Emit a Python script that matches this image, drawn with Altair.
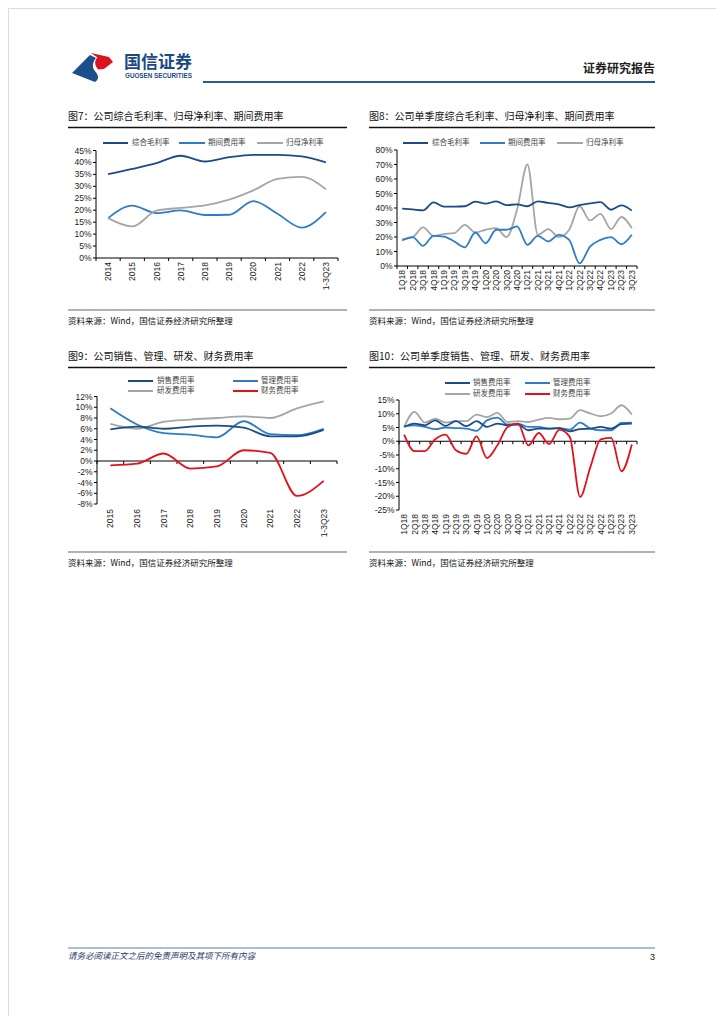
import altair as alt
import pandas as pd

# ---------------- data ----------------
years7 = ["2014", "2015", "2016", "2017", "2018", "2019", "2020", "2021", "2022", "1-3Q23"]
gross7 = [35.1, 37.3, 39.7, 42.8, 40.4, 42.2, 43.2, 43.2, 42.5, 40.0]
expense7 = [16.7, 21.9, 18.8, 19.9, 18.0, 18.1, 23.8, 18.5, 12.7, 19.2]
net7 = [16.7, 13.2, 19.8, 21.0, 22.0, 24.4, 28.3, 33.1, 34.0, 28.8]

quarters = ["1Q18", "2Q18", "3Q18", "4Q18", "1Q19", "2Q19", "3Q19", "4Q19",
            "1Q20", "2Q20", "3Q20", "4Q20", "1Q21", "2Q21", "3Q21", "4Q21",
            "1Q22", "2Q22", "3Q22", "4Q22", "1Q23", "2Q23", "3Q23"]
gross8 = [39.5, 39.0, 38.4, 43.9, 41.0, 41.0, 41.2, 44.4, 43.0, 44.6, 42.0, 42.5,
          41.2, 44.6, 43.5, 42.5, 40.5, 42.0, 43.2, 44.0, 38.8, 41.8, 38.2]
expense8 = [17.6, 19.9, 13.9, 20.8, 20.3, 16.9, 12.9, 23.1, 15.7, 25.0, 25.0, 27.3,
            14.6, 20.8, 16.9, 21.5, 18.0, 1.8, 13.4, 18.0, 19.9, 15.0, 21.5]
net8 = [18.5, 19.9, 26.6, 20.8, 22.0, 22.7, 28.4, 23.1, 25.0, 26.1, 19.9, 38.8,
        70.0, 21.5, 25.4, 19.9, 25.0, 41.2, 31.4, 36.0, 25.4, 33.8, 26.1]

years9 = ["2015", "2016", "2017", "2018", "2019", "2020", "2021", "2022", "1-3Q23"]
sales9 = [5.9, 6.4, 6.0, 6.4, 6.6, 6.2, 4.6, 4.6, 5.8]
admin9 = [9.8, 6.8, 5.2, 4.9, 4.4, 7.4, 5.0, 4.8, 6.0]
rd9 = [6.9, 6.0, 7.3, 7.7, 8.0, 8.3, 8.0, 9.8, 11.1]
fin9 = [-0.8, -0.5, 1.4, -1.4, -1.0, 2.0, 1.5, -6.5, -3.7]

sales10 = [5.2, 6.4, 5.8, 7.6, 5.6, 7.3, 5.5, 7.3, 5.2, 6.4, 5.8, 6.1,
           4.0, 4.6, 4.6, 4.8, 3.6, 4.4, 4.6, 5.2, 4.6, 6.2, 6.4]
admin10 = [5.5, 5.8, 5.2, 4.4, 5.0, 4.8, 4.6, 3.8, 7.6, 8.6, 6.1, 6.4,
           5.2, 5.2, 4.6, 4.8, 4.2, 6.8, 4.6, 4.0, 4.0, 6.7, 6.8]
rd10 = [5.2, 10.7, 6.8, 8.2, 6.8, 7.3, 7.3, 9.7, 8.8, 10.3, 7.0, 7.3,
        7.0, 7.9, 8.5, 8.0, 8.2, 11.3, 10.1, 9.1, 10.1, 13.1, 9.7]
fin10 = [2.4, -3.6, -3.6, 0.7, 2.4, -3.3, -4.6, 1.8, -6.1, -1.5, 5.2, 6.4,
         -1.5, 3.0, -1.0, 4.2, 1.6, -20.2, -9.3, 0.7, 1.2, -10.9, -1.2]

ticks7 = [0, 5, 10, 15, 20, 25, 30, 35, 40, 45]
ticks8 = [0, 10, 20, 30, 40, 50, 60, 70, 80]
ticks9 = [-8, -6, -4, -2, 0, 2, 4, 6, 8, 10, 12]
ticks10 = [-25, -20, -15, -10, -5, 0, 5, 10, 15]

names_a = ["综合毛利率", "期间费用率", "归母净利率"]
names_b = ["销售费用率", "管理费用率", "研发费用率", "财务费用率"]

# ---------------- styles ----------------
M = 8
CJK = "Noto Sans CJK SC"
LAT = "Liberation Sans"
NAVY = "#1A4C86"
BLUE = "#2E7DC6"
GRAY = "#A6A6A6"
RED = "#E1121C"
DUMMY = pd.DataFrame({"d": [0]})


def panel(cats, series, colors, ydom, yticks, box, label_y, base):
    x0, x1, yb, yt = box
    n = len(cats)
    xs = alt.Scale(domain=[-0.5, n - 0.5], range=[x0 - M, x1 - M], nice=False, zero=False)
    ys = alt.Scale(domain=ydom, range=[yb - M, yt - M], nice=False, zero=False)

    def X(f):
        return alt.X(f, type="quantitative", scale=xs, axis=None)

    def Y(f):
        return alt.Y(f, type="quantitative", scale=ys, axis=None)

    layers = []
    yaxis = alt.Chart(pd.DataFrame({"x": [-0.5], "lo": [ydom[0]], "hi": [ydom[1]]})).mark_rule(
        color="#000", strokeWidth=1).encode(x=X("x"), y=Y("lo"), y2="hi")
    tdf = pd.DataFrame({"t": yticks, "lab": [f"{t}%" for t in yticks]})
    ytk = alt.Chart(tdf).mark_rule(color="#000", strokeWidth=1).encode(
        x=alt.value(x0 - M - 3), x2=alt.value(x0 - M), y=Y("t"))
    ylab = alt.Chart(tdf).mark_text(align="right", baseline="middle", font=LAT, fontSize=8.5,
                                    color="#222").encode(x=alt.value(x0 - M - 4.5), y=Y("t"), text="lab:N")
    xaxis = alt.Chart(pd.DataFrame({"a": [-0.5], "b": [n - 0.5], "y": [base]})).mark_rule(
        color="#000", strokeWidth=1).encode(x=X("a"), x2="b", y=Y("y"))
    bdf = pd.DataFrame({"b": [i - 0.5 for i in range(n + 1)], "y": [base] * (n + 1), "y2": [base] * (n + 1)})
    xtk = alt.Chart(bdf).mark_rule(color="#000", strokeWidth=1, y2Offset=3).encode(
        x=X("b"), y=Y("y"), y2="y2")
    cdf = pd.DataFrame({"i": list(range(n)), "cat": cats})
    xlab = alt.Chart(cdf).mark_text(angle=270, align="right", baseline="middle", font=LAT,
                                    fontSize=8.5, color="#222").encode(
        x=X("i"), y=alt.value(label_y - M), text="cat:N")
    layers += [yaxis, ytk, ylab, xaxis, xtk, xlab]
    for vals, col in zip(series, colors):
        df = pd.DataFrame({"i": list(range(n)), "v": vals})
        layers.append(alt.Chart(df).mark_line(interpolate="monotone", strokeWidth=1.8, color=col).encode(
            x=X("i"), y=Y("v")))
    return alt.layer(*layers)


p7 = panel(years7, [expense7, net7, gross7], [BLUE, GRAY, NAVY], [0, 45], ticks7,
           (96, 338, 258, 150.5), 262, 0)
p8 = panel(quarters, [net8, expense8, gross8], [GRAY, BLUE, NAVY], [0, 80], ticks8,
           (397, 637, 266, 150), 270, 0)
p9 = panel(years9, [rd9, admin9, sales9, fin9], [GRAY, BLUE, NAVY, RED], [-8, 12], ticks9,
           (97, 337, 504, 396.5), 509, 0)
p10 = panel(quarters, [rd10, admin10, sales10, fin10], [GRAY, BLUE, NAVY, RED], [-25, 15], ticks10,
            (399, 637, 510, 400), 514, 0)

# ---------------- page decorations ----------------
decor = []


def text(t, x, y, size, color="#111", align="left", font=CJK, weight="normal", style="normal"):
    decor.append(alt.Chart(DUMMY).mark_text(text=t, align=align, baseline="middle", font=font,
                                             fontSize=size, color=color, fontWeight=weight,
                                             fontStyle=style).encode(
        x=alt.value(x - M), y=alt.value(y - M)))


def hline(x0, x1, y, color, w):
    decor.append(alt.Chart(DUMMY).mark_rule(color=color, strokeWidth=w).encode(
        x=alt.value(x0 - M), x2=alt.value(x1 - M), y=alt.value(y - M)))


def legend_item(lx0, lx1, tx, y, color, label):
    decor.append(alt.Chart(DUMMY).mark_rule(color=color, strokeWidth=2).encode(
        x=alt.value(lx0 - M), x2=alt.value(lx1 - M), y=alt.value(y - M)))
    text(label, tx, y, 7.5, color="#444")


# logo
blue_path = "M -0.95 0.29 L -0.1 -0.57 L 0.19 -0.43 C 0.0 -0.2 0.0 0.05 0.15 0.2 C 0.32 0.38 0.35 0.6 0.14 0.71 Z"
red_path = "M -0.05 -0.67 L 0.81 -0.48 L 1.0 -0.24 L 0.57 0.1 L 0.3 0.12 C 0.12 -0.05 0.1 -0.3 0.26 -0.45 Z"
for pth, col in [(blue_path, "#1B4F8C"), (red_path, "#D9141E")]:
    decor.append(alt.Chart(DUMMY).mark_point(shape=pth, filled=True, size=1764, color=col,
                                              opacity=1, strokeWidth=0).encode(
        x=alt.value(92 - M), y=alt.value(67 - M)))

text("国信证券", 124, 63, 17, color="#1B4A82", weight="bold")
text("GUOSEN SECURITIES", 125, 76, 6.3, color="#1B4A82", font=LAT, weight="bold")
text("证券研究报告", 655, 69, 12, color="#222", align="right", weight="bold")
hline(203, 655, 82, "#2C5B8E", 2)

# section titles & rules
text("图7：公司综合毛利率、归母净利率、期间费用率", 68, 117, 10)
text("图8：公司单季度综合毛利率、归母净利率、期间费用率", 369, 117, 10)
hline(68, 347, 127.5, "#111", 1.5)
hline(369, 655, 127.5, "#111", 1.5)
hline(68, 347, 310, "#999", 1.5)
hline(369, 655, 310, "#999", 1.5)
text("资料来源：Wind，国信证券经济研究所整理", 68, 321, 8.5)
text("资料来源：Wind，国信证券经济研究所整理", 369, 321, 8.5)

text("图9：公司销售、管理、研发、财务费用率", 68, 357, 10)
text("图10：公司单季度销售、管理、研发、财务费用率", 369, 357, 10)
hline(68, 347, 367.5, "#111", 1.5)
hline(369, 655, 367.5, "#111", 1.5)
hline(68, 347, 552, "#999", 1.5)
hline(369, 655, 552, "#999", 1.5)
text("资料来源：Wind，国信证券经济研究所整理", 68, 563, 8.5)
text("资料来源：Wind，国信证券经济研究所整理", 369, 563, 8.5)

# legends
for (lx0, lx1, tx), col, lab in zip([(103, 128, 132), (179, 205, 208), (257, 283, 286)],
                                    [NAVY, BLUE, GRAY], names_a):
    legend_item(lx0, lx1, tx, 143, col, lab)
for (lx0, lx1, tx), col, lab in zip([(403, 428, 432), (480, 505, 508), (557, 583, 586)],
                                    [NAVY, BLUE, GRAY], names_a):
    legend_item(lx0, lx1, tx, 143, col, lab)
for (lx0, lx1, tx, y), col, lab in zip([(128, 153, 157, 381), (233, 258, 261, 381),
                                        (128, 153, 157, 391), (233, 258, 261, 391)],
                                       [NAVY, BLUE, GRAY, RED], names_b):
    legend_item(lx0, lx1, tx, y, col, lab)
for (lx0, lx1, tx, y), col, lab in zip([(445, 470, 473, 383), (525, 550, 553, 383),
                                        (445, 470, 473, 394), (525, 550, 553, 394)],
                                       [NAVY, BLUE, GRAY, RED], names_b):
    legend_item(lx0, lx1, tx, y, col, lab)

# footer
hline(68, 655, 948, "#5B7FA6", 1)
text("请务必阅读正文之后的免责声明及其项下所有内容", 68, 956, 8.5, color="#1F3A68", style="italic")
text("3", 655, 957, 9, color="#111", align="right", font=LAT)

chart = alt.layer(*decor, p7, p8, p9, p10).resolve_scale(
    x="independent", y="independent"
).properties(
    width=708, height=1008, padding=0, autosize=alt.AutoSizeParams(type="none")
).configure_view(strokeWidth=0).configure(background="white")

chart.save("out.html", embed_options={"renderer": "svg", "actions": False})
